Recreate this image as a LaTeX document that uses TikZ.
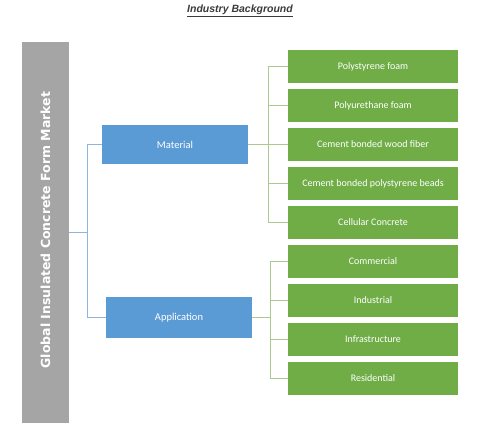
\documentclass[tikz,border=0pt]{standalone}
\usepackage{fontspec}
\setmainfont{Carlito}
\newfontfamily\titlefont{Liberation Sans}
\newfontfamily\barfont{DejaVu Sans}
\usetikzlibrary{positioning}
\definecolor{mktgray}{HTML}{A5A5A5}
\definecolor{segblue}{HTML}{5B9BD5}
\definecolor{subgreen}{HTML}{70AD47}
\definecolor{greenwire}{HTML}{A9CB8F}
\definecolor{bluewire}{HTML}{8DB6DE}
\definecolor{titlegray}{HTML}{3A3A3A}

\tikzset{
  segbox/.style={fill=segblue, text=white, minimum width=146pt, font=\fontsize{10.5}{12}\selectfont},
  subbox/.style={fill=subgreen, text=white, minimum width=170pt, minimum height=33pt, font=\fontsize{10}{12}\selectfont},
  bluelink/.style={bluewire, line width=0.8pt},
  greenlink/.style={greenwire, line width=0.8pt}
}

\begin{document}
\begin{tikzpicture}[x=1pt, y=-1pt]
  \useasboundingbox (0,0) rectangle (500,438);
  % title
  \node (title) at (240,11) {\titlefont\bfseries\itshape\fontsize{10.5}{12}\selectfont\color{titlegray}\underline{Industry Background}};
  % market bar
  \node[fill=mktgray, minimum width=47pt, minimum height=381pt, inner sep=0pt] (market) at (45.5,232.5) {};
  \node[rotate=90, text=white, font=\barfont\bfseries\fontsize{12.5}{14}\selectfont] (marketlbl) at (45.5,230) {Global Insulated Concrete Form Market};
  % segments
  \node[segbox, minimum height=39pt] (material) at (175,144.5) {Material};
  \node[segbox, minimum height=41pt] (application) at (179,317.5) {Application};
  \draw[bluelink] (market.east) -- ++(18,0) |- (material.west);
  \draw[bluelink] (market.east) -- ++(18,0) |- (application.west);
  % material types
  \foreach \name [count=\i] in {Polystyrene foam, Polyurethane foam, Cement bonded wood fiber, Cement bonded polystyrene beads, Cellular Concrete} {
    \node[subbox] (mat\i) at (373,{27.5+39*\i}) {\name};
    \draw[greenlink] (material.east) -- ++(20,0) |- (mat\i.west);
  }
  % application types
  \foreach \name [count=\i] in {Commercial, Industrial, Infrastructure, Residential} {
    \node[subbox] (app\i) at (373,{222.5+39*\i}) {\name};
    \draw[greenlink] (application.east) -- ++(18,0) |- (app\i.west);
  }
\end{tikzpicture}
\end{document}
